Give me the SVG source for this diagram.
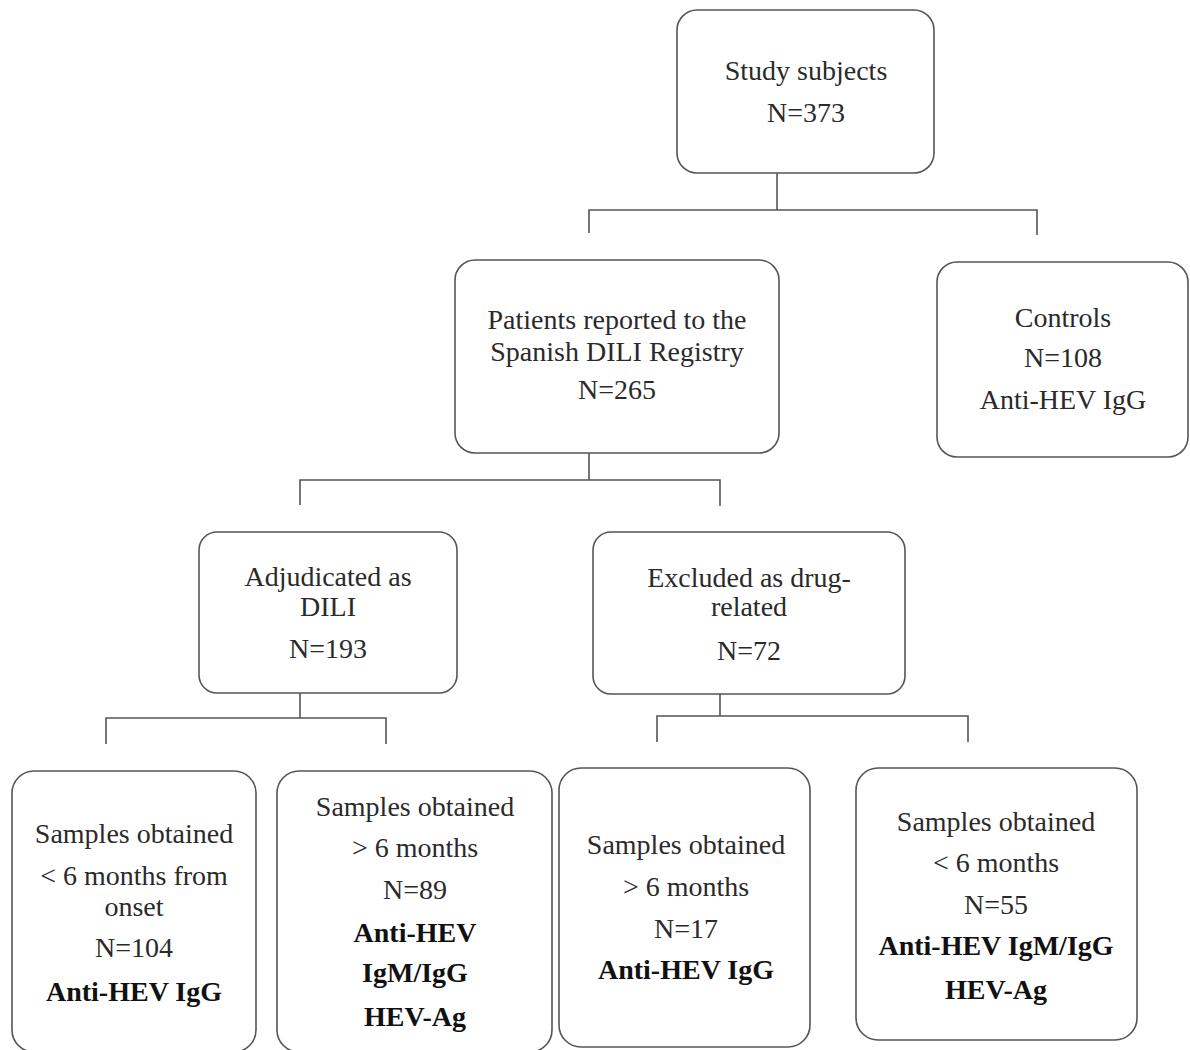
<svg xmlns="http://www.w3.org/2000/svg" width="1190" height="1050" viewBox="0 0 1190 1050">
<style>
.box{fill:#ffffff;stroke:#555555;stroke-width:1.6}
.ln{fill:none;stroke:#555555;stroke-width:1.6}
text{font-family:"Liberation Serif","Times New Roman",serif;font-size:28px;fill:#2a2a2a;text-anchor:middle}
.b{font-weight:bold;fill:#111111}
</style>
<rect width="1190" height="1050" fill="#ffffff"/>
<g id="connectors">
<path class="ln" d="M777,173 V210 M589,233 V210 H1037 V235"/>
<path class="ln" d="M589,453 V480 M300,505 V480 H720 V506"/>
<path class="ln" d="M300,693 V718 M106,744 V718 H386 V744"/>
<path class="ln" d="M720,694 V716 M657,742 V716 H968 V742"/>
</g>
<g id="study">
<rect class="box" x="677" y="10" width="257" height="163" rx="20"/>
<text x="806" y="80">Study subjects</text>
<text x="806" y="122">N=373</text>
</g>
<g id="patients">
<rect class="box" x="455" y="260" width="324" height="193" rx="20"/>
<text x="617" y="329">Patients reported to the</text>
<text x="617" y="361">Spanish DILI Registry</text>
<text x="617" y="399">N=265</text>
</g>
<g id="controls">
<rect class="box" x="937" y="262" width="251" height="195" rx="20"/>
<text x="1063" y="327">Controls</text>
<text x="1063" y="367">N=108</text>
<text x="1063" y="409">Anti-HEV IgG</text>
</g>
<g id="adjudicated">
<rect class="box" x="199" y="532" width="258" height="161" rx="18"/>
<text x="328" y="586">Adjudicated as</text>
<text x="328" y="616">DILI</text>
<text x="328" y="658">N=193</text>
</g>
<g id="excluded">
<rect class="box" x="593" y="532" width="312" height="162" rx="18"/>
<text x="749" y="587">Excluded as drug-</text>
<text x="749" y="616">related</text>
<text x="749" y="660">N=72</text>
</g>
<g id="s104">
<rect class="box" x="12" y="771" width="244" height="281" rx="22"/>
<text x="134" y="843">Samples obtained</text>
<text x="134" y="885">&lt; 6 months from</text>
<text x="134" y="916">onset</text>
<text x="134" y="957">N=104</text>
<text class="b" x="134" y="1001">Anti-HEV IgG</text>
</g>
<g id="s89">
<rect class="box" x="277" y="771" width="275" height="281" rx="22"/>
<text x="415" y="816">Samples obtained</text>
<text x="415" y="857">&gt; 6 months</text>
<text x="415" y="899">N=89</text>
<text class="b" x="415" y="942">Anti-HEV</text>
<text class="b" x="415" y="982">IgM/IgG</text>
<text class="b" x="415" y="1026">HEV-Ag</text>
</g>
<g id="s17">
<rect class="box" x="559" y="768" width="251" height="279" rx="22"/>
<text x="686" y="854">Samples obtained</text>
<text x="686" y="896">&gt; 6 months</text>
<text x="686" y="938">N=17</text>
<text class="b" x="686" y="979">Anti-HEV IgG</text>
</g>
<g id="s55">
<rect class="box" x="856" y="768" width="281" height="272" rx="22"/>
<text x="996" y="831">Samples obtained</text>
<text x="996" y="872">&lt; 6 months</text>
<text x="996" y="914">N=55</text>
<text class="b" x="996" y="955">Anti-HEV IgM/IgG</text>
<text class="b" x="996" y="999">HEV-Ag</text>
</g>
</svg>
